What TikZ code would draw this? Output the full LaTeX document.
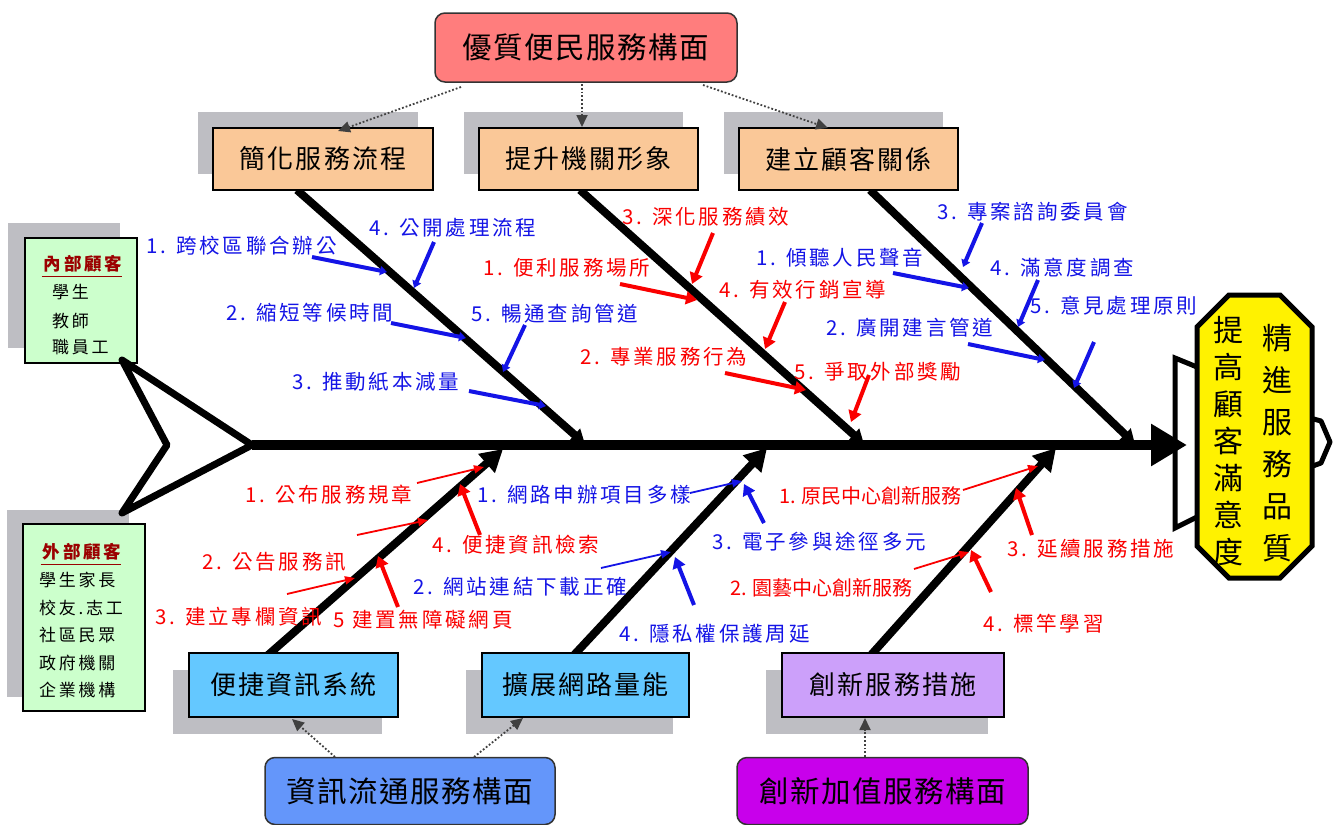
\documentclass[tikz,border=0pt]{standalone}
\usepackage{fontspec}
\setmainfont{Noto Sans CJK TC}
\newfontfamily\lbf[LetterSpace=14]{Noto Sans CJK TC}
\newfontfamily\bxf[LetterSpace=8]{Noto Sans CJK TC}
\newfontfamily\bgf[LetterSpace=5]{Noto Sans CJK TC}
\newfontfamily\smf[LetterSpace=16]{Noto Sans CJK TC}
\usetikzlibrary{arrows.meta}
\definecolor{lblue}{RGB}{20,20,230}
\definecolor{lred}{RGB}{250,0,0}
\definecolor{peach}{RGB}{250,200,152}
\definecolor{skyb}{RGB}{100,200,255}
\definecolor{lav}{RGB}{204,160,250}
\definecolor{pinkr}{RGB}{255,125,125}
\definecolor{infob}{RGB}{100,150,250}
\definecolor{magen}{RGB}{200,0,235}
\definecolor{mint}{RGB}{204,255,204}
\definecolor{dred}{RGB}{155,0,0}
\definecolor{shad}{RGB}{190,190,195}
\begin{document}
\begin{tikzpicture}[x=1pt,y=-1pt,
  cat/.style={draw=black,line width=1.5,inner sep=0,minimum height=62,font=\bxf\fontsize{26}{26}\selectfont},
  big/.style={draw=black!80,line width=1.5,rounded corners=10,inner sep=0,minimum height=67,font=\bgf\fontsize{29.5}{29.5}\selectfont},
  cust/.style={draw=black,line width=1.5,fill=mint,inner sep=0},
  bone/.style={line width=8,black},
  lab/.style={anchor=west,inner sep=0,font=\lbf\fontsize{20.5}{20.5}\selectfont},
  tight/.style={font=\fontsize{20}{20}\selectfont},
  bl/.style={lab,text=lblue},
  rd/.style={lab,text=lred},
  bconn/.style={draw=lblue,line width=4,-{Triangle[length=7,width=9]}},
  rarr/.style={draw=lred,line width=4,-{Triangle[length=11,width=13]}},
  rthin/.style={draw=lred,line width=1.8,-{Triangle[length=10,width=8]}},
  bthin/.style={draw=lblue,line width=1.8,-{Triangle[length=10,width=8]}},
  barr/.style={draw=lblue,line width=4,-{Triangle[length=11,width=13]}},
  dotarr/.style={draw=black!75,line width=1.8,dotted,-{Triangle[length=12,width=11]}},
  item/.style={anchor=west,inner sep=0,font=\smf\fontsize{17}{17}\selectfont},
  ttl/.style={inner sep=0,text=dred,font=\smf\bfseries\fontsize{17.5}{17.5}\selectfont},
  headtxt/.style={inner sep=0,align=center},
]
\useasboundingbox (0,0) rectangle (1334,825);
\fill[white] (0,0) rectangle (1334,825);

% ---------- shadows
\fill[shad] (198,112) rectangle (418,174);
\fill[shad] (464,112) rectangle (683,174);
\fill[shad] (724,112) rectangle (943,174);
\fill[shad] (173,670) rectangle (382,734);
\fill[shad] (466,670) rectangle (673,734);
\fill[shad] (766,670) rectangle (988,734);
\fill[shad] (8,223) rectangle (120,348);
\fill[shad] (7,510) rectangle (129,697);

% ---------- coordinates of the skeleton
\coordinate (sp0) at (252,445);
\coordinate (sp1) at (1187,445);
\coordinate (t1) at (122,360);
\coordinate (t2) at (167,445);
\coordinate (t3) at (122,513);
\coordinate (b1s) at (297,190); \coordinate (b1e) at (585,444);
\coordinate (b2s) at (580,190); \coordinate (b2e) at (864,444);
\coordinate (b3s) at (870,190); \coordinate (b3e) at (1135,444);
\coordinate (b4s) at (268,655); \coordinate (b4e) at (503,449);
\coordinate (b5s) at (574,655); \coordinate (b5e) at (767,448);
\coordinate (b6s) at (871,655); \coordinate (b6e) at (1056,448);

% ---------- head (bracket, octagon, bump)
\draw[line width=5,line join=miter] (1197,367) -- (1175,358) -- (1175,528) -- (1197,517);
\draw[line width=5,line join=round] (1310,418) -- (1321,421) -- (1330,442) -- (1321,463) -- (1310,467);
\draw[line width=5,fill=yellow,line join=miter] (1229,295) -- (1280,295) -- (1312,327) -- (1312,546) -- (1280,578) -- (1229,578) -- (1197,546) -- (1197,327) -- cycle;
\node[headtxt,font=\fontsize{30}{42}\selectfont] (hR) at (1277,443) {精\\進\\服\\務\\品\\質};
\node[headtxt,font=\fontsize{30}{37}\selectfont] (hL) at (1228,441) {提\\高\\顧\\客\\滿\\意\\度};

% ---------- bones
\draw[bone,-{Triangle[length=14,width=16]}] (b1s) -- (b1e);
\draw[bone,-{Triangle[length=14,width=16]}] (b2s) -- (b2e);
\draw[bone,-{Triangle[length=14,width=16]}] (b3s) -- (b3e);
\draw[bone,-{Triangle[length=22,width=24]}] (b4s) -- (b4e);
\draw[bone,-{Triangle[length=22,width=24]}] (b5s) -- (b5e);
\draw[bone,-{Triangle[length=22,width=24]}] (b6s) -- (b6e);
\draw[line width=10,-{Triangle[length=36,width=40]}] (sp0) -- (sp1);

% ---------- category boxes
\node[cat,fill=peach,minimum width=220] (simp) at (323,159) {簡化服務流程};
\node[cat,fill=peach,minimum width=219] (img) at (588.5,159) {提升機關形象};
\node[cat,fill=peach,minimum width=219] (rel) at (848.5,159) {建立顧客關係};
\node[cat,fill=skyb,minimum width=209,minimum height=64] (info) at (293.5,685) {便捷資訊系統};
\node[cat,fill=skyb,minimum width=207,minimum height=64] (net) at (585.5,685) {擴展網路量能};
\node[cat,fill=lav,minimum width=222,minimum height=64] (inno) at (893,685) {創新服務措施};

% ---------- dimension boxes
\node[big,fill=pinkr,minimum width=302,minimum height=69] (top) at (586,47.5) {優質便民服務構面};
\node[big,fill=infob,minimum width=290] (flow) at (410,791) {資訊流通服務構面};
\node[big,fill=magen,minimum width=291] (addv) at (882.5,791) {創新加值服務構面};

\coordinate (d1a) at (461,87);  \coordinate (d1b) at (338,131);
\coordinate (d2a) at (582,84);  \coordinate (d2b) at (582,127);
\coordinate (d3a) at (703,85);  \coordinate (d3b) at (828,128);
\coordinate (d4a) at (335,757); \coordinate (d4b) at (292,719);
\coordinate (d5a) at (474,757); \coordinate (d5b) at (523,718);
\coordinate (d6a) at (865,757); \coordinate (d6b) at (865,718);
\draw[dotarr] (d1a) -- (d1b);
\draw[dotarr] (d2a) -- (d2b);
\draw[dotarr] (d3a) -- (d3b);
\draw[dotarr] (d4a) -- (d4b);
\draw[dotarr] (d5a) -- (d5b);
\draw[dotarr] (d6a) -- (d6b);

% ---------- customer boxes
\node[cust,minimum width=112,minimum height=125] (inner) at (81,300.5) {};
\node[ttl] (innerT) at (83,264) {內部顧客};
\draw[dred,line width=1.3] (innerT.south west) ++(-2,4) coordinate (iu1) -- (innerT.south east |- iu1);
\node[item] (i1) at (52,292) {學生};
\node[item] (i2) at (52,321) {教師};
\node[item] (i3) at (52,347) {職員工};

\node[cust,minimum width=122,minimum height=187] (outer) at (84,617.5) {};
\node[ttl] (outerT) at (82,552) {外部顧客};
\draw[dred,line width=1.3] (outerT.south west) ++(-2,4) coordinate (ou1) -- (outerT.south east |- ou1);
\node[item] (o1) at (39,580) {學生家長};
\node[item] (o2) at (39,608) {校友.志工};
\node[item] (o3) at (39,635) {社區民眾};
\node[item] (o4) at (39,663) {政府機關};
\node[item] (o5) at (39,690) {企業機構};

% ---------- tail
\draw[line width=7,line join=round] (t1) -- (sp0) -- (t3) -- (t2) -- cycle;

% ---------- bone 1 labels (blue)
\node[bl] (u1) at (146,246) {1. 跨校區聯合辦公};
\node[bl] (u4) at (369,228) {4. 公開處理流程};
\node[bl] (u2) at (226,313) {2. 縮短等候時間};
\node[bl] (u5) at (471,314) {5. 暢通查詢管道};
\node[bl] (u3) at (292,382) {3. 推動紙本減量};
\coordinate (c1a) at (312,257); \coordinate (c1b) at (387,272);
\coordinate (c4a) at (434,242); \coordinate (c4b) at (414,288);
\coordinate (c2a) at (391,323); \coordinate (c2b) at (466,338);
\coordinate (c5a) at (525,325); \coordinate (c5b) at (503,372);
\coordinate (c3a) at (469,391); \coordinate (c3b) at (546,406);
\draw[bconn] (c1a) -- (c1b);
\draw[bconn] (c4a) -- (c4b);
\draw[bconn] (c2a) -- (c2b);
\draw[bconn] (c5a) -- (c5b);
\draw[bconn] (c3a) -- (c3b);

% ---------- bone 2 labels (red)
\node[rd] (m3) at (622,217) {3. 深化服務績效};
\node[rd] (m1) at (483,268) {1. 便利服務場所};
\node[rd] (m4) at (719,290) {4. 有效行銷宣導};
\node[rd] (m2) at (580,357) {2. 專業服務行為};
\node[rd] (m5) at (794,372) {5. 爭取外部獎勵};
\coordinate (e3a) at (713,233); \coordinate (e3b) at (692,284);
\coordinate (e1a) at (620,284); \coordinate (e1b) at (697,300);
\coordinate (e4a) at (785,302); \coordinate (e4b) at (765,349);
\coordinate (e2a) at (725,373); \coordinate (e2b) at (806,390);
\coordinate (e5a) at (869,375); \coordinate (e5b) at (851,422);
\draw[rarr] (e3a) -- (e3b);
\draw[rarr] (e1a) -- (e1b);
\draw[rarr] (e4a) -- (e4b);
\draw[rarr] (e2a) -- (e2b);
\draw[rarr] (e5a) -- (e5b);

% ---------- bone 3 labels (blue)
\node[bl] (r3) at (937,212) {3. 專案諮詢委員會};
\node[bl] (r1) at (756,258) {1. 傾聽人民聲音};
\node[bl] (r4) at (990,268) {4. 滿意度調查};
\node[bl] (r2) at (826,328) {2. 廣開建言管道};
\node[bl] (r5) at (1030,306) {5. 意見處理原則};
\coordinate (f3a) at (982,223);  \coordinate (f3b) at (963,267);
\coordinate (f1a) at (893,273);  \coordinate (f1b) at (969,288);
\coordinate (f4a) at (1038,280); \coordinate (f4b) at (1018,327);
\coordinate (f2a) at (968,344);  \coordinate (f2b) at (1045,360);
\coordinate (f5a) at (1094,342); \coordinate (f5b) at (1074,388);
\draw[bconn] (f3a) -- (f3b);
\draw[bconn] (f1a) -- (f1b);
\draw[bconn] (f4a) -- (f4b);
\draw[bconn] (f2a) -- (f2b);
\draw[bconn] (f5a) -- (f5b);

% ---------- bone 4 labels (red)
\node[rd] (p1) at (245,495) {1. 公布服務規章};
\node[rd] (p2) at (202,562) {2. 公告服務訊};
\node[rd] (p3) at (155,617) {3. 建立專欄資訊};
\node[rd] (p4) at (432,545) {4. 便捷資訊檢索};
\node[rd] (p5) at (333,620) {5 建置無障礙網頁};
\coordinate (g1a) at (417,483); \coordinate (g1b) at (484,467);
\coordinate (g2a) at (357,535); \coordinate (g2b) at (428,520);
\coordinate (g3a) at (287,594); \coordinate (g3b) at (355,578);
\coordinate (g4a) at (480,535); \coordinate (g4b) at (460,484);
\coordinate (g5a) at (398,607); \coordinate (g5b) at (378,556);
\draw[rthin] (g1a) -- (g1b);
\draw[rthin] (g2a) -- (g2b);
\draw[rthin] (g3a) -- (g3b);
\draw[rarr] (g4a) -- (g4b);
\draw[rarr] (g5a) -- (g5b);

% ---------- bone 5 labels (blue)
\node[bl] (q1) at (477,495) {1. 網路申辦項目多樣};
\node[bl] (q3) at (712,542) {3. 電子參與途徑多元};
\node[bl] (q2) at (413,587) {2. 網站連結下載正確};
\node[bl] (q4) at (619,634) {4. 隱私權保護周延};
\coordinate (h1a) at (690,493); \coordinate (h1b) at (742,481);
\coordinate (h3a) at (764,523); \coordinate (h3b) at (744,484);
\coordinate (h2a) at (601,568); \coordinate (h2b) at (671,552);
\coordinate (h4a) at (694,605); \coordinate (h4b) at (675,557);
\draw[bthin] (h1a) -- (h1b);
\draw[barr] (h3a) -- (h3b);
\draw[bthin] (h2a) -- (h2b);
\draw[barr] (h4a) -- (h4b);

% ---------- bone 6 labels (red)
\node[rd,tight] (k1) at (779,496) {1. 原民中心創新服務};
\node[rd] (k3) at (1007,549) {3. 延續服務措施};
\node[rd,tight] (k2) at (730,588) {2. 園藝中心創新服務};
\node[rd] (k4) at (983,624) {4. 標竿學習};
\coordinate (j1a) at (963,490);  \coordinate (j1b) at (1038,466);
\coordinate (j3a) at (1032,535); \coordinate (j3b) at (1016,488);
\coordinate (j2a) at (914,569);  \coordinate (j2b) at (969,552);
\coordinate (j4a) at (991,592);  \coordinate (j4b) at (971,550);
\draw[rthin] (j1a) -- (j1b);
\draw[rarr] (j3a) -- (j3b);
\draw[rthin] (j2a) -- (j2b);
\draw[rarr] (j4a) -- (j4b);
\end{tikzpicture}
\end{document}
